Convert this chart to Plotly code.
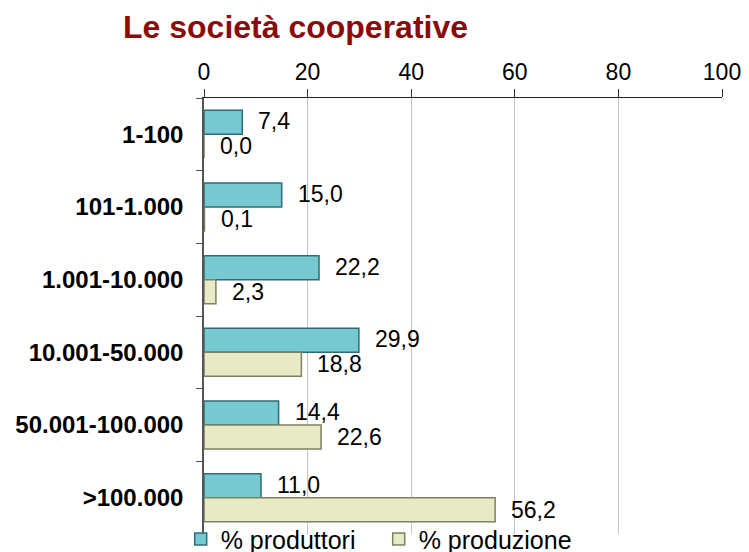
import plotly.graph_objects as go

categories = ["1-100", "101-1.000", "1.001-10.000", "10.001-50.000", "50.001-100.000", ">100.000"]
produttori = [7.4, 15.0, 22.2, 29.9, 14.4, 11.0]
produzione = [0.0, 0.1, 2.3, 18.8, 22.6, 56.2]
x_ticks = [0, 20, 40, 60, 80, 100]

FONT = "Arial, 'Liberation Sans', sans-serif"

# the page adds an 8px body margin and the visible width ends at ~741px
W, H = 741, 544


def fmt(v):
    return f"{v:.1f}".replace(".", ",")


fig = go.Figure()
fig.add_trace(go.Bar(
    y=categories, x=produttori, orientation="h", name="% produttori",
    marker=dict(color="#76c9d1", line=dict(color="#2e6d75", width=1.5)),
))
fig.add_trace(go.Bar(
    y=categories, x=produzione, orientation="h", name="% produzione",
    marker=dict(color="#e8eac6", line=dict(color="#7e8060", width=1.5)),
))

# value labels right of each bar
for cat, a, b in zip(categories, produttori, produzione):
    fig.add_annotation(x=a, y=cat, text=fmt(a), showarrow=False, xanchor="left",
                       xshift=14, yshift=13, font=dict(size=23, color="black", family=FONT))
    fig.add_annotation(x=b, y=cat, text=fmt(b), showarrow=False, xanchor="left",
                       xshift=14, yshift=-12, font=dict(size=23, color="black", family=FONT))

fig.update_layout(
    width=W, height=H,
    margin=dict(l=196, r=27, t=90, b=18, autoexpand=False),
    paper_bgcolor="white", plot_bgcolor="white",
    barmode="group", bargap=0.34, bargroupgap=0,
    font=dict(family=FONT, color="black"),
    title=dict(text="<b>Le società cooperative</b>", x=115 / W, xanchor="left",
               y=1 - 19 / H, yanchor="middle",
               font=dict(size=32, color="#8b0a0a", family=FONT)),
    showlegend=True,
    legend=dict(orientation="h", x=-0.045, xanchor="left", y=-0.012, yanchor="middle",
                font=dict(size=25, family=FONT), bgcolor="rgba(0,0,0,0)",
                traceorder="normal", entrywidth=153),
    xaxis=dict(
        side="top", range=[0, 100], tickvals=x_ticks, ticktext=[str(t) for t in x_ticks],
        showgrid=True, gridcolor="#c4c4c4", gridwidth=1, automargin=False,
        showline=True, linecolor="#222222", linewidth=1.2,
        ticks="outside", ticklen=8, tickcolor="#333333",
        tickfont=dict(size=23, family=FONT), zeroline=False,
    ),
    yaxis=dict(
        autorange="reversed", showline=True, linecolor="#555555", linewidth=1.5,
        ticks="outside", ticklen=6, tickcolor="#555555", tickson="boundaries",
        ticklabelstandoff=14, automargin=False,
        tickfont=dict(size=24, family=FONT, weight="bold"), showgrid=False,
    ),
)

fig.write_html("out.html")
